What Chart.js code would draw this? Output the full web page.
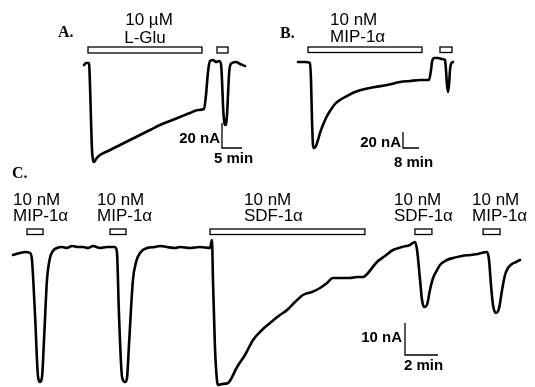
<!DOCTYPE html>
<html><head><meta charset="utf-8">
<script src="https://cdn.jsdelivr.net/npm/chart.js@4"></script>
<style>html,body{margin:0;padding:0;background:#fff}canvas{display:block}</style>
</head><body>
<canvas id="c" width="535" height="387"></canvas>
<script>
// ---- Panel A: 10 µM L-Glu (time in min, current in nA) ----
const timeA = [0.25,0.75,1.5,1.75,2.0,2.25,2.5,2.75,3.25,4.25,6.75,9.25,11.75,14.25,16.75,19.25,21.75,24.25,26.75,28.75,30.25,30.75,31.25,31.75,32.5,33.25,34,34.5,34.75,35,35.25,35.5,35.75,36,36.25,36.5,36.75,37.25,38.25,39.25,40.5];
const currentA = [-2.4,-0.8,-0.8,-18.4,-46.4,-70.4,-78.4,-80,-77.6,-74.4,-70.4,-66.4,-62.4,-58.4,-54.4,-50.4,-47.2,-44,-40.8,-38.4,-37.6,-26.4,-8,0.8,1.6,0,0.8,-1.6,-14.4,-34.4,-46.4,-50.4,-49.6,-42.4,-26.4,-10.4,-3.2,-0.8,0,-1.6,-3.2];
const drugStartA = [1.25, 33.5];
const drugEndA = [29.75, 36.25];
const scaleA = [20, 5]; // nA, min

// ---- Panel B: 10 nM MIP-1α ----
const timeB = [0,3.5,6,6.5,7,7.5,8,9,10,11,12.5,14,16,18.5,21,24.5,28.5,33.5,38.5,44.5,51,56,61,65.5,66.5,67,68,70,72,73.5,74,74.5,75,75.5,76,76.5,77.5];
const currentB = [0,0,-1.25,-22.5,-72.5,-103.75,-107.5,-105,-97.5,-88.75,-78.75,-70,-61.25,-52.5,-47.5,-42.5,-37.5,-33.75,-31.25,-28.75,-25,-23.75,-22.5,-22.5,-10,0,5,5,3.75,2.5,-10,-28.75,-37.5,-28.75,-10,-2.5,0];
const drugStartB = [5, 71];
const drugEndB = [62, 77];
const scaleB = [20, 8];

// ---- Panel C: MIP-1α / SDF-1α applications ----
const timeC = [0.06,0.48,0.79,1.09,1.21,1.39,1.58,1.70,1.82,1.94,2.12,2.30,2.48,2.73,3.03,3.33,3.64,4.00,4.30,4.61,4.91,5.33,5.76,6.24,6.36,6.48,6.67,6.85,6.97,7.09,7.33,7.52,7.76,8.18,8.67,8.97,9.39,9.88,10.18,10.79,11.39,12.00,12.12,12.18,12.30,12.42,12.48,12.73,13.09,13.64,14.12,14.61,15.15,15.64,16.24,16.67,17.15,17.64,18.18,18.67,19.09,19.45,20.00,20.48,20.91,21.27,21.58,21.82,22.12,22.61,23.09,23.64,24.12,24.42,24.55,24.73,24.85,24.97,25.15,25.33,25.52,25.76,25.94,26.36,26.73,27.27,27.76,28.24,28.79,28.91,29.03,29.15,29.33,29.52,29.70,29.88,30.06,30.30,30.55,30.79];
const currentC = [-0.94,-0.31,0,-0.31,-2.5,-19.06,-39.06,-40.63,-39.06,-27.5,-8.75,-1.88,0.31,1.25,1.56,1.25,1.88,1.56,1.56,1.25,1.88,1.25,1.56,1.56,0,-19.06,-39.06,-40.63,-39.38,-29.06,-8.75,-3.13,-0.31,1.25,1.56,1.88,1.56,1.25,1.56,1.25,1.56,1.25,3.75,-8.75,-29.69,-40,-41.56,-41.25,-40.94,-35.94,-32.19,-27.5,-24.38,-22.19,-19.69,-18.13,-15.63,-13.44,-12.5,-11.25,-9.69,-8.13,-8.13,-8.13,-7.81,-7.81,-6.56,-5,-3.13,-1.25,0.63,1.56,2.19,3.13,0.63,-8.75,-15,-17.19,-16.56,-11.88,-8.13,-5.63,-4.06,-2.5,-1.88,-1.25,-0.94,-0.63,0,-2.5,-10.31,-16.56,-19.06,-17.5,-11.88,-7.19,-5,-3.75,-3.13,-2.5];
const drugStartC = [0.91, 5.94, 12.0, 24.42, 28.55];
const drugEndC = [1.88, 6.91, 21.39, 25.45, 29.58];
const drugLabelC = [["10 nM","MIP-1α"],["10 nM","MIP-1α"],["10 nM","SDF-1α"],["10 nM","SDF-1α"],["10 nM","MIP-1α"]];
const scaleC = [10, 2];

// ---- layout (pixel placement of each panel on the page) ----
const W = 535, H = 387;
const layout = {
  A: {x0: 83, kx: 4, y0: 62, ky: 1.25, barY: 47, barH: 6, sbX: 222, sbY: 148},
  B: {x0: 298, kx: 2, y0: 62, ky: 0.8, barY: 47, barH: 5.5, sbX: 403, sbY: 148},
  C: {x0: 12, kx: 16.5, y0: 252, ky: 3.2, barY: 229, barH: 5.5, sbX: 405, sbY: 355}
};
const scales = {};
for (const k of Object.keys(layout)) {
  const L = layout[k];
  scales['x' + k] = {type: 'linear', axis: 'x', display: false, min: (0 - L.x0) / L.kx, max: (W - L.x0) / L.kx};
  scales['y' + k] = {type: 'linear', axis: 'y', display: false, min: (L.y0 - H) / L.ky, max: L.y0 / L.ky};
}
function pts(t, v) { return t.map((x, i) => ({x: x, y: v[i]})); }
function trace(k, t, v) {
  return {data: pts(t, v), xAxisID: 'x' + k, yAxisID: 'y' + k, borderColor: '#000', borderWidth: 2.6,
    pointRadius: 0, fill: false, cubicInterpolationMode: 'monotone', borderJoinStyle: 'round', borderCapStyle: 'round', clip: false};
}

const annot = {
  id: 'annot',
  afterDatasetsDraw(chart) {
    const ctx = chart.ctx;
    const S = chart.scales;
    ctx.save();
    ctx.strokeStyle = '#000';
    ctx.fillStyle = '#000';
    // drug application bars
    const bars = [['A', drugStartA, drugEndA], ['B', drugStartB, drugEndB], ['C', drugStartC, drugEndC]];
    ctx.lineWidth = 1.3;
    for (const [k, st, en] of bars) {
      const xs = S['x' + k], L = layout[k];
      for (let i = 0; i < st.length; i++) {
        const a = xs.getPixelForValue(st[i]), b = xs.getPixelForValue(en[i]);
        ctx.fillStyle = '#fff';
        ctx.fillRect(a, L.barY, b - a, L.barH);
        ctx.strokeRect(a, L.barY, b - a, L.barH);
      }
    }
    // scale bars
    const sb = [['A', scaleA], ['B', scaleB], ['C', scaleC]];
    ctx.lineWidth = 1.3;
    for (const [k, s] of sb) {
      const xs = S['x' + k], ys = S['y' + k], L = layout[k];
      const vLen = ys.getPixelForValue(0) - ys.getPixelForValue(s[0]);
      const hLen = xs.getPixelForValue(s[1]) - xs.getPixelForValue(0);
      ctx.beginPath();
      ctx.moveTo(L.sbX, L.sbY - vLen);
      ctx.lineTo(L.sbX, L.sbY);
      ctx.lineTo(L.sbX + hLen, L.sbY);
      ctx.stroke();
    }
    // text
    ctx.fillStyle = '#000';
    ctx.textBaseline = 'alphabetic';
    ctx.font = 'bold 16px "Liberation Serif"';
    ctx.textAlign = 'left';
    ctx.fillText('A.', 58, 37);
    ctx.fillText('B.', 280, 38);
    ctx.fillText('C.', 12, 178);

    ctx.font = '17px "Liberation Sans"';
    ctx.textAlign = 'center';
    ctx.fillText('10 µM', 149, 25);
    ctx.fillText('L-Glu', 145, 43);
    ctx.textAlign = 'left';
    ctx.fillText('10 nM', 330, 25);
    ctx.fillText('MIP-1α', 330, 42);
    const labX = [13, 97, 244, 394, 472];
    for (let i = 0; i < drugLabelC.length; i++) {
      ctx.fillText(drugLabelC[i][0], labX[i], 205);
      ctx.fillText(drugLabelC[i][1], labX[i], 221);
    }

    ctx.font = 'bold 15px "Liberation Sans"';
    ctx.textAlign = 'right';
    ctx.fillText(scaleA[0] + ' nA', 220, 143);
    ctx.fillText(scaleB[0] + ' nA', 401, 147);
    ctx.fillText(scaleC[0] + ' nA', 402, 342);
    ctx.textAlign = 'left';
    ctx.fillText(scaleA[1] + ' min', 214, 163);
    ctx.fillText(scaleB[1] + ' min', 394, 167);
    ctx.fillText(scaleC[1] + ' min', 404, 370);
    ctx.restore();
  }
};

new Chart(document.getElementById('c'), {
  type: 'line',
  data: {datasets: [trace('A', timeA, currentA), trace('B', timeB, currentB), trace('C', timeC, currentC)]},
  options: {
    responsive: false, animation: false, events: [],
    layout: {padding: 0},
    plugins: {legend: {display: false}, tooltip: {enabled: false}, title: {display: false}},
    scales: scales
  },
  plugins: [annot]
});
</script>
</body></html>
